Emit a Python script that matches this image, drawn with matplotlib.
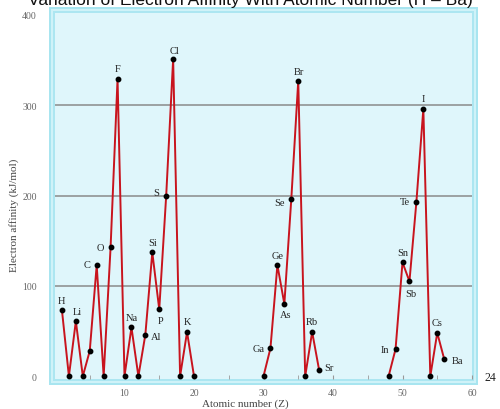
import matplotlib
matplotlib.use("Agg")
import matplotlib.pyplot as plt
from matplotlib.patches import Rectangle

# ---- data ----
seg1_z = [1, 2, 3, 4, 5, 6, 7, 8, 9, 10, 11, 12, 13, 14, 15, 16, 17, 18, 19, 20]
seg1_ea = [73, 0, 61, 0, 28, 123, 0, 143, 329, 0, 54, 0, 46, 137, 74, 200, 351, 0, 49, 0]
seg2_z = [30, 31, 32, 33, 34, 35, 36, 37, 38]
seg2_ea = [0, 31, 123, 80, 196, 327, 0, 49, 7]
seg3_z = [48, 49, 50, 51, 52, 53, 54, 55, 56]
seg3_ea = [0, 30, 126, 105, 193, 296, 0, 48, 19]

labels = {
    1: "H", 3: "Li", 6: "C", 8: "O", 9: "F", 11: "Na", 13: "Al", 14: "Si", 15: "P",
    16: "S", 17: "Cl", 19: "K", 31: "Ga", 32: "Ge", 33: "As", 34: "Se", 35: "Br",
    37: "Rb", 38: "Sr", 49: "In", 50: "Sn", 51: "Sb", 52: "Te", 53: "I", 55: "Cs", 56: "Ba",
}
# label offsets in pixels (dx, dy)  (dy positive = up)
offsets = {
    "H": (-1, 10), "Li": (1, 10), "C": (-10, 1), "O": (-10, 0), "F": (0, 10),
    "Na": (0, 10), "Al": (11, -2), "Si": (0, 10), "P": (1, -11), "S": (-10, 3),
    "Cl": (1, 9), "K": (0, 10), "Ga": (-12, 0), "Ge": (0, 10), "As": (1, -11),
    "Se": (-12, -3), "Br": (1, 9), "Rb": (0, 10), "Sr": (10, 2), "In": (-11, 0),
    "Sn": (0, 10), "Sb": (1, -12), "Te": (-11, 0), "I": (0, 10), "Cs": (0, 10),
    "Ba": (13, -1),
}

x_ticks = [10, 20, 30, 40, 50, 60]
y_ticks = [0, 100, 200, 300, 400]

W, H = 500, 410
fig = plt.figure(figsize=(W / 100, H / 100), dpi=100)

def px_rect(x0, y0, x1, y1, color, z):
    r = Rectangle((x0 / W, 1 - y1 / H), (x1 - x0) / W, (y1 - y0) / H,
                  transform=fig.transFigure, facecolor=color, edgecolor="none", zorder=z)
    fig.add_artist(r)

px_rect(48.5, 7.5, 478, 386, "#a8e5f0", -3)
px_rect(50.5, 9.5, 476, 384, "#cff2f8", -2)
px_rect(52.5, 11.5, 474, 382, "#ace6f1", -1)

ax = fig.add_axes([55 / W, 1 - 379.5 / H, (472 - 55) / W, (379.5 - 14) / H])
ax.set_facecolor("#dff6fb")
for s in ax.spines.values():
    s.set_visible(False)

ax.set_xlim(0, 59.86)
ax.set_ylim(-2.5, 402)

for yv in [100, 200, 300]:
    ax.axhline(yv, color="#8a8a8a", lw=1.1, zorder=1)

serif = ["Liberation Serif", "DejaVu Serif"]
red = "#c8141e"
for zs, es in [(seg1_z, seg1_ea), (seg2_z, seg2_ea), (seg3_z, seg3_ea)]:
    ax.plot(zs, es, color=red, lw=1.4, zorder=2)
    ax.plot(zs, es, "o", color="black", ms=3.2, zorder=3)

allz = seg1_z + seg2_z + seg3_z
alle = seg1_ea + seg2_ea + seg3_ea
for z, e in zip(allz, alle):
    if z in labels:
        t = labels[z]
        dx, dy = offsets[t]
        ax.annotate(t, (z, e), xytext=(dx * 0.72, dy * 0.72), textcoords="offset points",
                    ha="center", va="center", fontsize=7.5, family=serif, color="#222222",
                    zorder=4)

ax.set_xticks(x_ticks)
ax.set_xticks([5, 15, 25, 35, 45, 55], minor=True)
ax.set_yticks(y_ticks)
ax.tick_params(axis="x", which="both", direction="in", length=3, color="#999999",
               labelsize=7, labelcolor="#666666", pad=7)
ax.tick_params(axis="y", length=0, labelsize=7, labelcolor="#666666", pad=13)
for lab in ax.get_xticklabels() + ax.get_yticklabels():
    lab.set_family(serif)

fig.text(14 / W, 1 - 215 / H, "Electron affinity (kJ/mol)", rotation=90, ha="center",
         va="center", fontsize=8, family=serif, color="#444444")
fig.text(245 / W, 1 - 404.5 / H, "Atomic number (Z)", ha="center", va="center",
         fontsize=8, family=serif, color="#444444")
fig.text(490 / W, 1 - 378 / H, "24", ha="center", va="center", fontsize=8.5,
         family=serif, color="#222222")
fig.text(250 / W, 1 - 5 / H, "Variation of Electron Affinity With Atomic Number (H \u2013 Ba)",
         ha="center", va="baseline", fontsize=12.5, family=["Liberation Sans", "DejaVu Sans"],
         color="#111111")

fig.savefig("out.png", dpi=100)
